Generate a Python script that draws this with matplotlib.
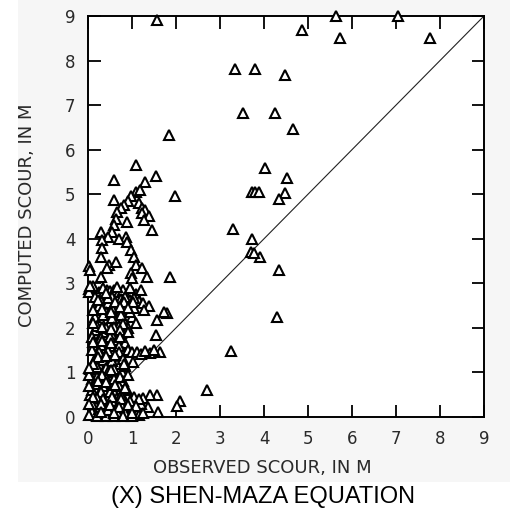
import matplotlib
matplotlib.use("Agg")
import matplotlib.pyplot as plt
from matplotlib.patches import Rectangle

# Observed vs computed pier scour depth (m), Shen-Maza equation
observed = [
    1.56, 5.64, 7.05, 4.86, 5.73, 7.77, 3.34, 3.80, 4.48, 3.52, 4.25, 4.66,
    1.84, 4.02, 4.52, 3.72, 3.80, 3.88, 4.48, 4.35, 3.30, 3.72, 3.70, 3.90,
    3.78, 4.34, 4.30, 3.25, 2.70, 2.09, 2.02, 1.98, 1.86, 1.80, 1.57, 1.55,
    1.64, 1.41, 1.59, 1.57, 1.41, 1.25, 1.36,
    1.09, 0.59, 1.55, 1.30, 1.10, 1.18, 0.60, 1.16, 1.23, 1.30, 1.22, 1.39,
    1.27, 0.89, 1.45, 0.86, 0.98, 0.90, 0.82, 0.74, 0.66, 0.63, 0.59, 0.55,
    0.30, 0.45, 0.32, 0.70, 0.89, 0.32, 0.98, 0.30, 1.05, 0.02, 0.48, 0.63,
    0.43, 1.09, 1.23, 0.98, 1.34, 0.30, 1.00, 0.02, 0.02, 0.43,
    0.25, 0.35, 0.50, 0.60, 0.70, 0.80, 0.90, 1.00, 1.10, 0.55, 0.75, 0.95,
    1.15, 1.25, 0.30, 0.45, 0.65, 0.85, 1.05, 1.39, 1.27, 1.73, 1.00, 0.20,
    0.40, 0.60, 0.80, 0.30, 0.50, 0.70, 0.90,
    0.15, 0.35, 0.55, 0.75, 0.25, 0.45, 0.65, 0.85, 0.20, 0.40, 0.60, 0.80,
    0.90, 1.00, 1.11, 1.20, 1.30, 1.50, 0.30, 0.50, 0.70, 0.15, 0.25, 0.45,
    0.65, 1.02, 0.77, 0.09, 0.16, 0.04, 0.35, 0.55,
    0.10, 0.30, 0.50, 0.20, 0.40, 0.60, 0.89, 0.05, 0.25, 0.45, 0.65, 0.85,
    1.00, 0.15, 0.35, 0.55, 0.75, 0.95, 1.10, 1.20, 0.10, 0.30, 0.50, 0.70,
    0.90, 1.15, 0.02, 0.40, 0.60, 1.05,
    0.35, 0.65, 0.95, 1.20, 0.15, 0.45, 0.85, 1.05,
    0.25, 0.55, 0.75, 0.95, 0.15, 0.35, 0.55, 0.75, 0.20, 0.40, 0.60, 0.80,
    1.10,
    0.10, 0.30, 0.50, 0.70, 0.30, 0.50, 0.10, 0.25, 0.45, 0.70, 0.35, 0.55,
    0.80, 0.20, 0.40, 0.60, 0.85, 0.45,
    0.20, 0.40, 0.60, 0.80, 0.15, 0.35, 0.70, 0.10, 0.30, 0.50, 0.75, 0.20,
    0.55, 0.75, 0.95, 0.25, 0.45, 0.65, 0.85, 0.20, 0.80, 1.00, 1.25, 1.15,
    0.10,
    0.12, 0.22, 0.42, 0.62, 0.82, 1.02, 0.12, 0.32, 0.52, 0.72, 0.92, 0.12,
    0.32, 0.52, 0.72, 0.92, 0.12, 0.32, 0.52, 0.72, 0.22, 0.42, 0.62, 0.82,
    0.12, 0.32, 0.52, 0.72, 0.92, 0.22, 0.42, 0.62, 0.85, 0.12, 0.35, 0.55,
    0.75, 0.95, 0.30, 0.50, 0.70, 0.90, 1.10, 0.30, 0.60, 1.00, 0.02, 0.02,
    0.04, 0.04, 0.02, 0.02,
]
computed = [
    8.90, 9.00, 9.00, 8.68, 8.50, 8.50, 7.82, 7.82, 7.67, 6.82, 6.82, 6.47,
    6.32, 5.58, 5.36, 5.04, 5.04, 5.04, 5.02, 4.90, 4.22, 4.00, 3.70, 3.60,
    3.68, 3.30, 2.24, 1.48, 0.60, 0.36, 0.24, 4.96, 3.14, 2.33, 2.17, 1.84,
    1.46, 1.44, 0.11, 0.49, 0.49, 0.42, 0.22,
    5.65, 5.32, 5.40, 5.27, 5.05, 5.10, 4.86, 4.80, 4.70, 4.64, 4.58, 4.52,
    4.42, 4.37, 4.19, 4.04, 4.95, 4.85, 4.75, 4.68, 4.60, 4.45, 4.30, 4.15,
    4.15, 4.05, 3.97, 4.00, 3.93, 3.79, 3.74, 3.59, 3.59, 3.38, 3.41, 3.48,
    3.34, 3.41, 3.34, 3.23, 3.14, 3.14, 3.11, 2.88, 2.80, 2.85,
    2.80, 2.75, 2.82, 2.85, 2.80, 2.84, 2.78, 2.80, 2.75, 2.70, 2.65, 2.62,
    2.60, 2.55, 2.60, 2.55, 2.50, 2.48, 2.45, 2.50, 2.40, 2.35, 2.25, 2.40,
    2.35, 2.30, 2.20, 2.15, 2.10, 2.05, 2.00,
    1.95, 1.90, 1.85, 1.88, 1.75, 1.70, 1.72, 1.65, 1.60, 1.55, 1.50, 1.45,
    1.50, 1.45, 1.46, 1.42, 1.48, 1.50, 1.40, 1.35, 1.30, 1.30, 1.20, 1.15,
    1.20, 1.23, 1.00, 1.05, 1.00, 1.08, 1.02, 0.95,
    0.85, 0.80, 0.75, 0.65, 0.60, 0.55, 0.60, 0.50, 0.45, 0.40, 0.42, 0.35,
    0.30, 0.30, 0.25, 0.20, 0.15, 0.12, 0.15, 0.30, 0.12, 0.08, 0.05, 0.05,
    0.05, 0.05, 0.05, 0.02, 0.02, 0.45,
    2.90, 2.92, 2.90, 2.85, 2.70, 2.68, 2.70, 2.68,
    2.50, 2.45, 2.38, 2.35, 2.25, 2.28, 2.22, 2.28, 2.05, 2.00, 2.02, 2.08,
    2.10,
    1.80, 1.78, 1.80, 1.60, 1.62, 1.60, 1.50, 1.45, 1.48, 1.45, 1.28, 1.25,
    1.30, 1.12, 1.10, 1.08, 1.15, 1.00,
    0.90, 0.88, 0.85, 0.80, 0.75, 0.70, 0.70, 0.60, 0.55, 0.55, 0.50, 0.42,
    0.35, 0.30, 0.22, 0.18, 0.15, 0.12, 0.10, 0.02, 0.02, 0.02, 0.10, 0.40,
    0.30,
    2.95, 2.62, 2.78, 2.58, 2.58, 2.58, 2.40, 2.42, 2.35, 2.48, 2.45, 2.12,
    2.02, 1.98, 1.95, 1.90, 1.68, 1.70, 1.66, 1.80, 1.35, 1.38, 1.40, 1.20,
    1.18, 0.95, 1.05, 0.90, 0.95, 0.80, 0.78, 0.72, 0.65, 0.45, 0.40, 0.45,
    0.40, 0.35, 0.30, 0.28, 0.22, 0.28, 0.25, 0.12, 0.08, 0.10, 0.95, 1.10,
    3.30, 2.95, 0.70, 0.30,
]
ticks = list(range(0, 10))
axis_max = 9

W, H = 531, 512
fig = plt.figure(figsize=(W / 100, H / 100), dpi=100)
fig.patch.set_facecolor("white")
fig.add_artist(Rectangle((18 / W, 30 / H), 492 / W, 482 / H,
                         transform=fig.transFigure, facecolor="#f6f6f6",
                         edgecolor="none", zorder=0))

ax = fig.add_axes([88 / W, 95 / H, 396 / W, 401 / H])
ax.set_facecolor("white")
ax.plot([0, axis_max], [0, axis_max], color="#222222", lw=0.8, zorder=2)
ax.plot(observed, computed, linestyle="none", marker="^", markersize=6.5,
        markerfacecolor="white", markeredgecolor="black",
        markeredgewidth=1.5, clip_on=False, zorder=3)

ax.set_xlim(0, axis_max)
ax.set_ylim(0, axis_max)
ax.set_xticks(ticks)
ax.set_yticks(ticks)
for s in ax.spines.values():
    s.set_linewidth(1.4)
ax.tick_params(direction="in", length=9, width=1.3, top=True, right=True,
               labelsize=12, pad=9)
for lab in ax.get_xticklabels() + ax.get_yticklabels():
    lab.set_fontfamily("DejaVu Sans")
    lab.set_color("#2a2a2a")

fig.text(262 / W, 1 - 468 / H, "OBSERVED SCOUR, IN M", ha="center",
         va="center", fontsize=13, family="DejaVu Sans", color="#2a2a2a")
fig.text(27 / W, 1 - 215 / H, "COMPUTED SCOUR, IN M", ha="center",
         va="center", rotation=90, fontsize=13, family="DejaVu Sans",
         color="#2a2a2a")
fig.text(263 / W, 1 - 497 / H, "(X) SHEN-MAZA EQUATION", ha="center",
         va="center", fontsize=17, family="Liberation Sans", color="black")

fig.savefig("out.png", dpi=100)
